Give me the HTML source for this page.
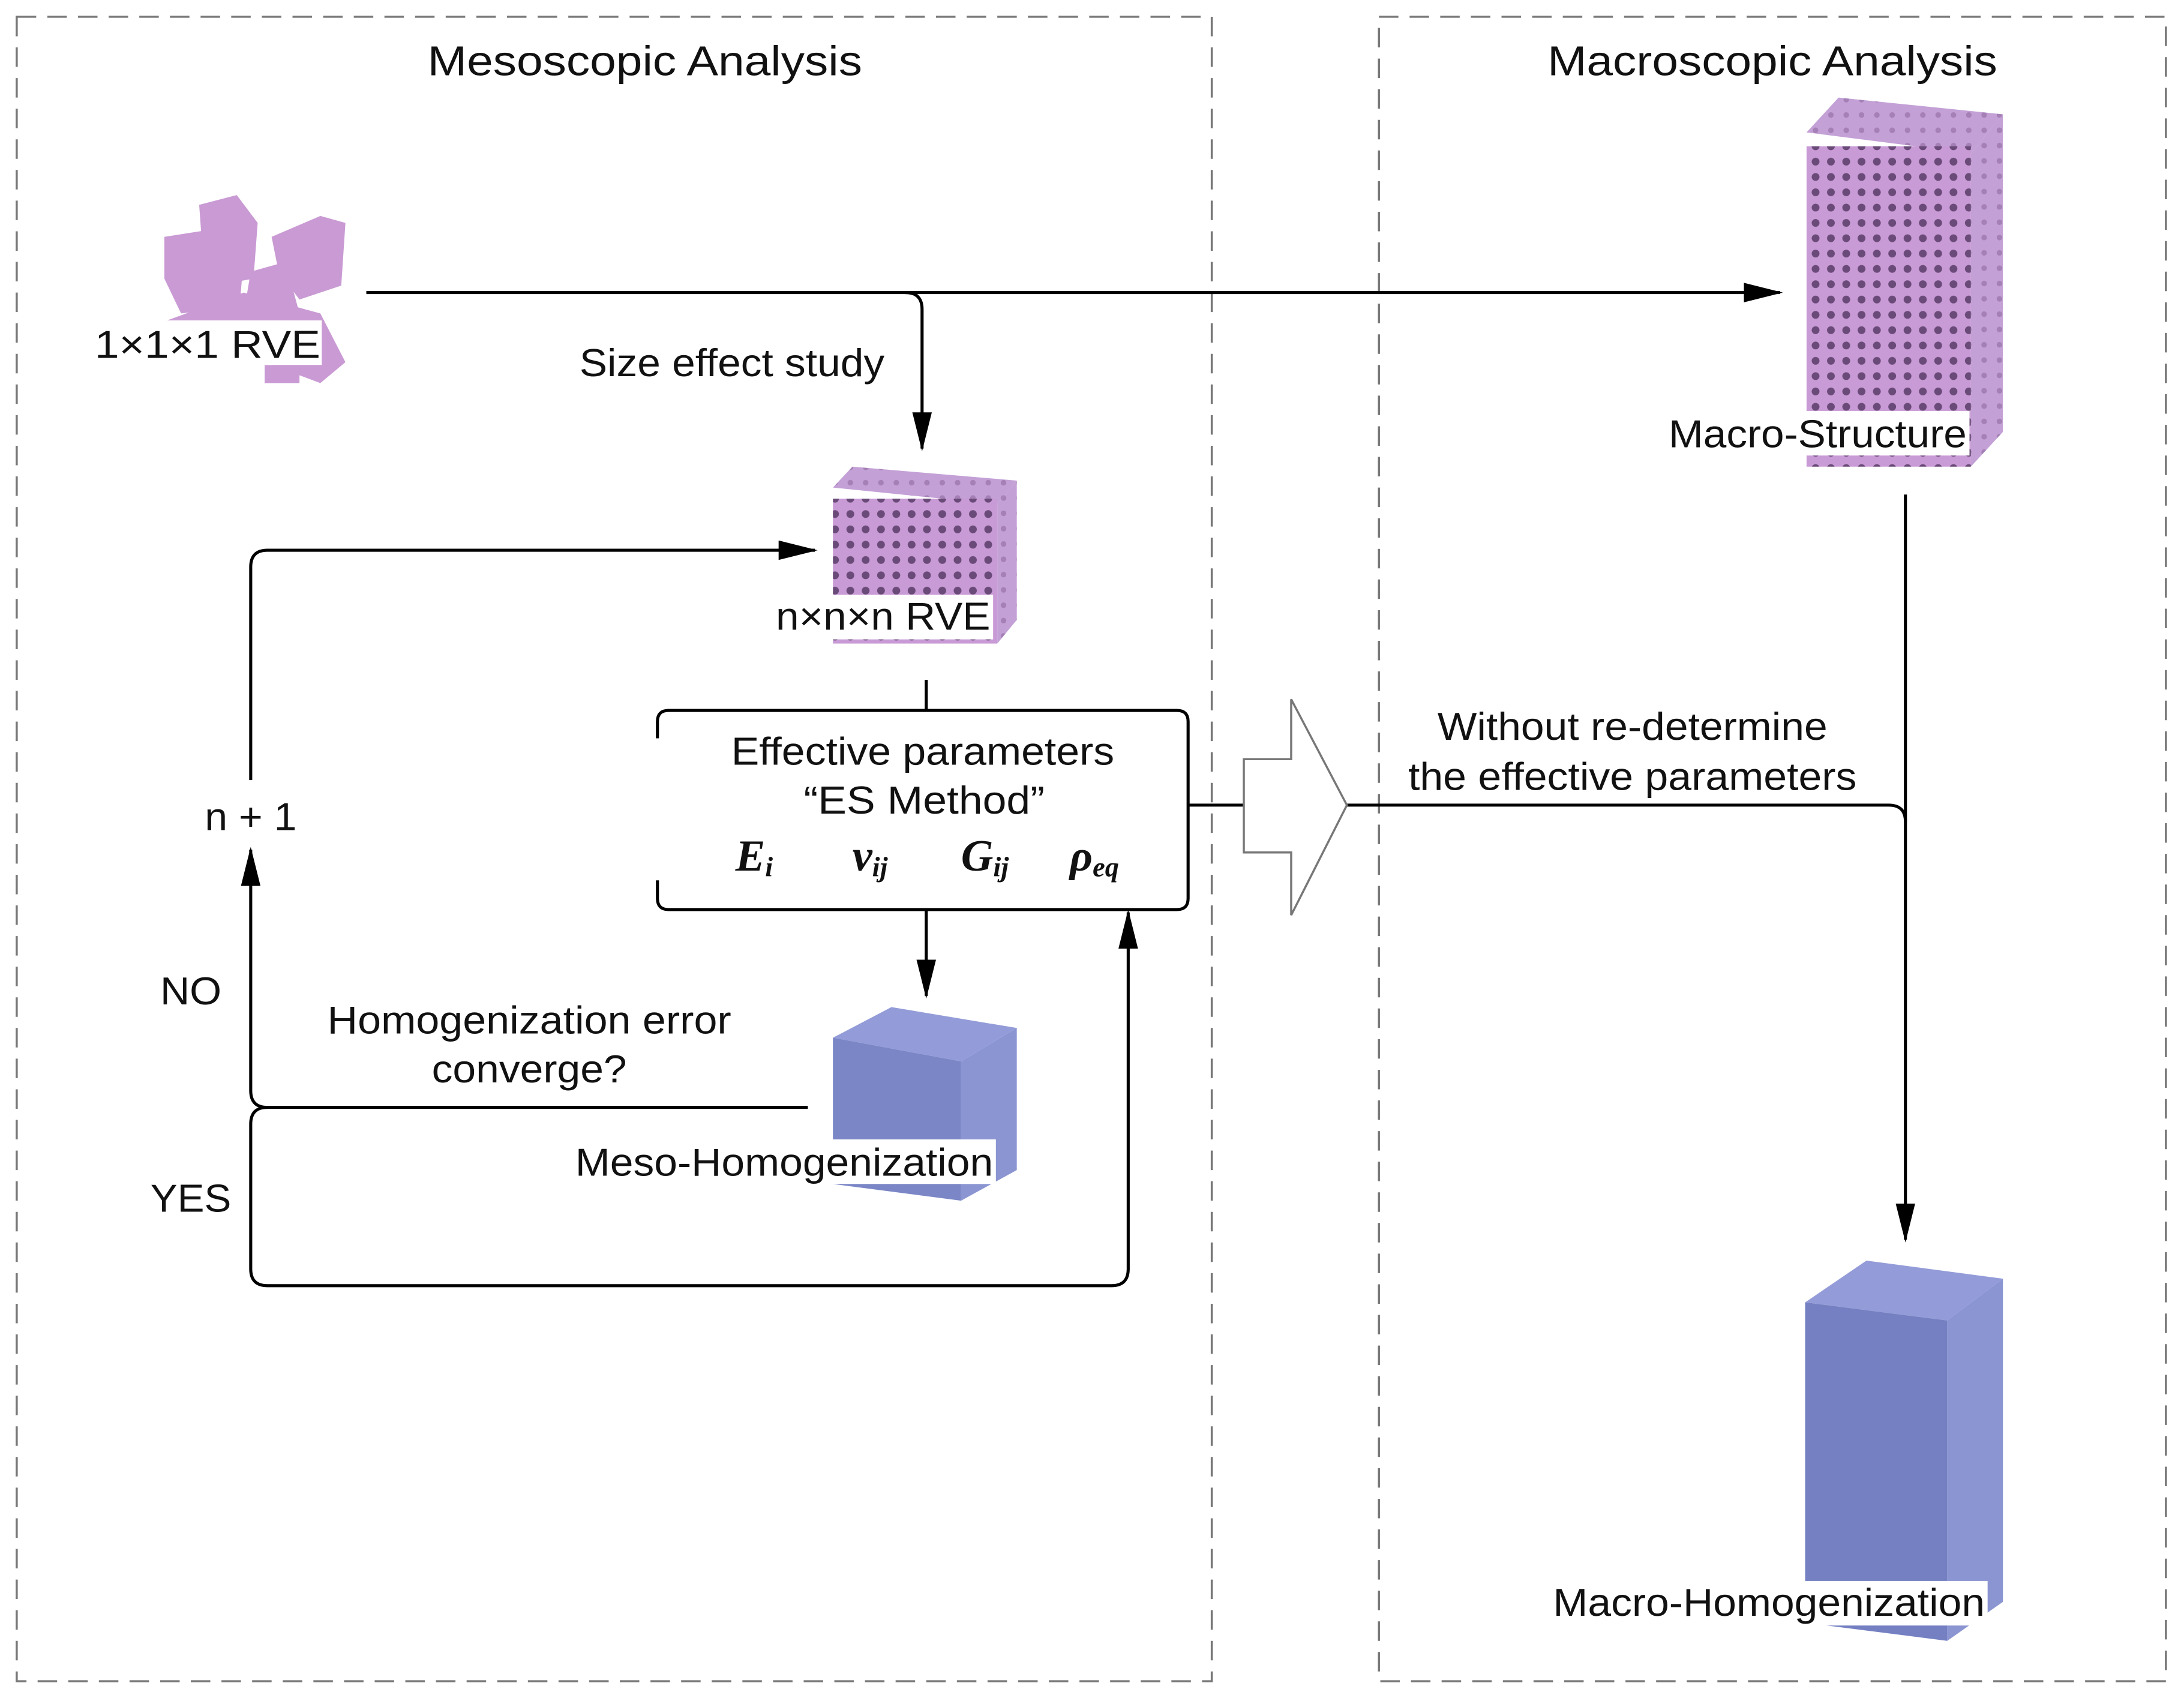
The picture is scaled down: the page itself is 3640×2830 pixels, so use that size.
<!DOCTYPE html>
<html><head><meta charset="utf-8"><style>html,body{margin:0;padding:0;background:#fff}svg{display:block}
.t{font-family:"Liberation Sans",Arial,sans-serif;fill:#111}
.m{font-family:"Liberation Serif","Times New Roman",serif;font-weight:bold;font-style:italic;fill:#111}</style></head>
<body>
<svg xmlns="http://www.w3.org/2000/svg" width="3640" height="2830" viewBox="0 0 1568 1219">
<defs>
<pattern id="lat" width="11" height="11" patternUnits="userSpaceOnUse">
<rect width="11" height="11" fill="#c99bd6"/>
<circle cx="5.5" cy="6" r="2.8" fill="#6a4a78"/>
</pattern>
<pattern id="lat2" width="11" height="11" patternUnits="userSpaceOnUse">
<rect width="11" height="11" fill="#c3a0d6"/>
<circle cx="5.5" cy="5.5" r="2" fill="#a580b6"/>
</pattern>
<marker id="ah" markerWidth="28" markerHeight="14" refX="26" refY="7" orient="auto" markerUnits="userSpaceOnUse"><path d="M0,0 L28,7 L0,14 Z" fill="#000"/></marker>
</defs>
<g fill="none" stroke="#777" stroke-width="1.5" stroke-dasharray="14,8">
<rect x="12" y="12" width="858" height="1195"/>
<rect x="990" y="12" width="565" height="1195"/>
</g>
<!-- 1x1x1 RVE -->
<g fill="#c99ad4">
<polygon points="143,147 170,140 185,160 182,200 155,205 145,175"/>
<polygon points="118,170 150,165 175,185 172,220 130,225 118,200"/>
<polygon points="195,170 230,155 248,160 245,205 215,215 200,195"/>
<polygon points="180,195 205,188 215,225 195,235 175,225"/>
<polygon points="120,230 175,210 230,225 248,260 230,275 190,260 150,232"/>
</g>
<rect x="190" y="262" width="25" height="13" fill="#c99ad4"/>
<!-- arrows -->
<g fill="none" stroke="#000" stroke-width="2.2">
<line x1="263" y1="210" x2="1278" y2="210" marker-end="url(#ah)"/>
<path d="M650,210 Q662,210 662,222 L662,322" marker-end="url(#ah)"/>
<line x1="665" y1="488" x2="665" y2="510"/>
<path d="M472,530 L472,518 Q472,510 480,510 L845,510 Q853,510 853,518 L853,645 Q853,653 845,653 L480,653 Q472,653 472,645 L472,632"/>
<line x1="853" y1="578" x2="893" y2="578"/>
<path d="M967,578 L1356,578 Q1368,578 1368,590"/>
<line x1="1368" y1="355" x2="1368" y2="890" marker-end="url(#ah)"/>
<line x1="665" y1="653" x2="665" y2="715" marker-end="url(#ah)"/>
<path d="M580,795 L192,795 Q180,795 180,783 L180,610" marker-end="url(#ah)"/>
<path d="M180,560 L180,407 Q180,395 192,395 L585,395" marker-end="url(#ah)"/>
<path d="M192,795 Q180,795 180,807 L180,911 Q180,923 192,923 L798,923 Q810,923 810,911 L810,655" marker-end="url(#ah)"/>
</g>
<polygon points="893,545 927,545 927,502 967,578 927,657 927,612 893,612" fill="#fff" stroke="#777" stroke-width="1.5"/>
<!-- nxnxn cube -->
<polygon points="598,350 612,335 730,345 716,362" fill="url(#lat2)"/>
<polygon points="716,362 730,345 730,445 716,462" fill="url(#lat2)"/>
<rect x="598" y="358" width="118" height="104" fill="url(#lat)"/>
<!-- macro structure -->
<polygon points="1297,95 1320,70 1438,82 1415,110" fill="url(#lat2)"/>
<polygon points="1415,110 1438,82 1438,310 1415,335" fill="url(#lat2)"/>
<rect x="1297" y="105" width="118" height="230" fill="url(#lat)"/>
<!-- meso homog -->
<polygon points="598,745 640,723 730,738 690,762" fill="#939cd8"/>
<polygon points="690,762 730,738 730,840 690,862" fill="#8b95d2"/>
<polygon points="598,745 690,762 690,862 598,850" fill="#7a86c6"/>
<!-- macro homog -->
<polygon points="1296,935 1340,905 1438,918 1398,948" fill="#939cd8"/>
<polygon points="1398,948 1438,918 1438,1150 1398,1178" fill="#8b95d2"/>
<polygon points="1296,935 1398,948 1398,1178 1296,1165" fill="#7480c2"/>
<rect x="66" y="230" width="165" height="32" fill="#fff"/>
<rect x="556" y="427" width="157" height="32" fill="#fff"/>
<rect x="1196" y="295" width="218" height="32" fill="#fff"/>
<rect x="411" y="818" width="304" height="32" fill="#fff"/>
<rect x="1113" y="1135" width="314" height="32" fill="#fff"/>
<g class="t" font-size="30" lengthAdjust="spacingAndGlyphs">
<text x="307" y="54" textLength="312" lengthAdjust="spacingAndGlyphs">Mesoscopic Analysis</text>
<text x="1111" y="54" textLength="323" lengthAdjust="spacingAndGlyphs">Macroscopic Analysis</text>
</g>
<g class="t" font-size="28">
<text x="68" y="257" textLength="162" lengthAdjust="spacingAndGlyphs">1×1×1  RVE</text>
<text x="416" y="270" textLength="219" lengthAdjust="spacingAndGlyphs">Size effect study</text>
<text x="557" y="452" textLength="154" lengthAdjust="spacingAndGlyphs">n×n×n RVE</text>
<text x="1198" y="321" textLength="214" lengthAdjust="spacingAndGlyphs">Macro-Structure</text>
<text x="525" y="549" textLength="275" lengthAdjust="spacingAndGlyphs">Effective parameters</text>
<text x="577" y="584" textLength="173" lengthAdjust="spacingAndGlyphs">“ES Method”</text>
<text x="1032" y="531" textLength="280" lengthAdjust="spacingAndGlyphs">Without re-determine</text>
<text x="1011" y="567" textLength="322" lengthAdjust="spacingAndGlyphs">the effective parameters</text>
<text x="147" y="596" textLength="66" lengthAdjust="spacingAndGlyphs">n + 1</text>
<text x="115" y="721" textLength="44" lengthAdjust="spacingAndGlyphs">NO</text>
<text x="108" y="870" textLength="58" lengthAdjust="spacingAndGlyphs">YES</text>
<text x="235" y="742" textLength="290" lengthAdjust="spacingAndGlyphs">Homogenization error</text>
<text x="310" y="777" textLength="140" lengthAdjust="spacingAndGlyphs">converge?</text>
<text x="413" y="844" textLength="300" lengthAdjust="spacingAndGlyphs">Meso-Homogenization</text>
<text x="1115" y="1160" textLength="310" lengthAdjust="spacingAndGlyphs">Macro-Homogenization</text>
</g>
<g class="m">
<text x="528" y="625" font-size="32">E<tspan font-size="20" dy="4">i</tspan></text>
<text x="612" y="625" font-size="32">v<tspan font-size="20" dy="4">ij</tspan></text>
<text x="690" y="625" font-size="32">G<tspan font-size="20" dy="4">ij</tspan></text>
<text x="768" y="625" font-size="32">ρ<tspan font-size="20" dy="4">eq</tspan></text>
</g>
</svg>
</body></html>
